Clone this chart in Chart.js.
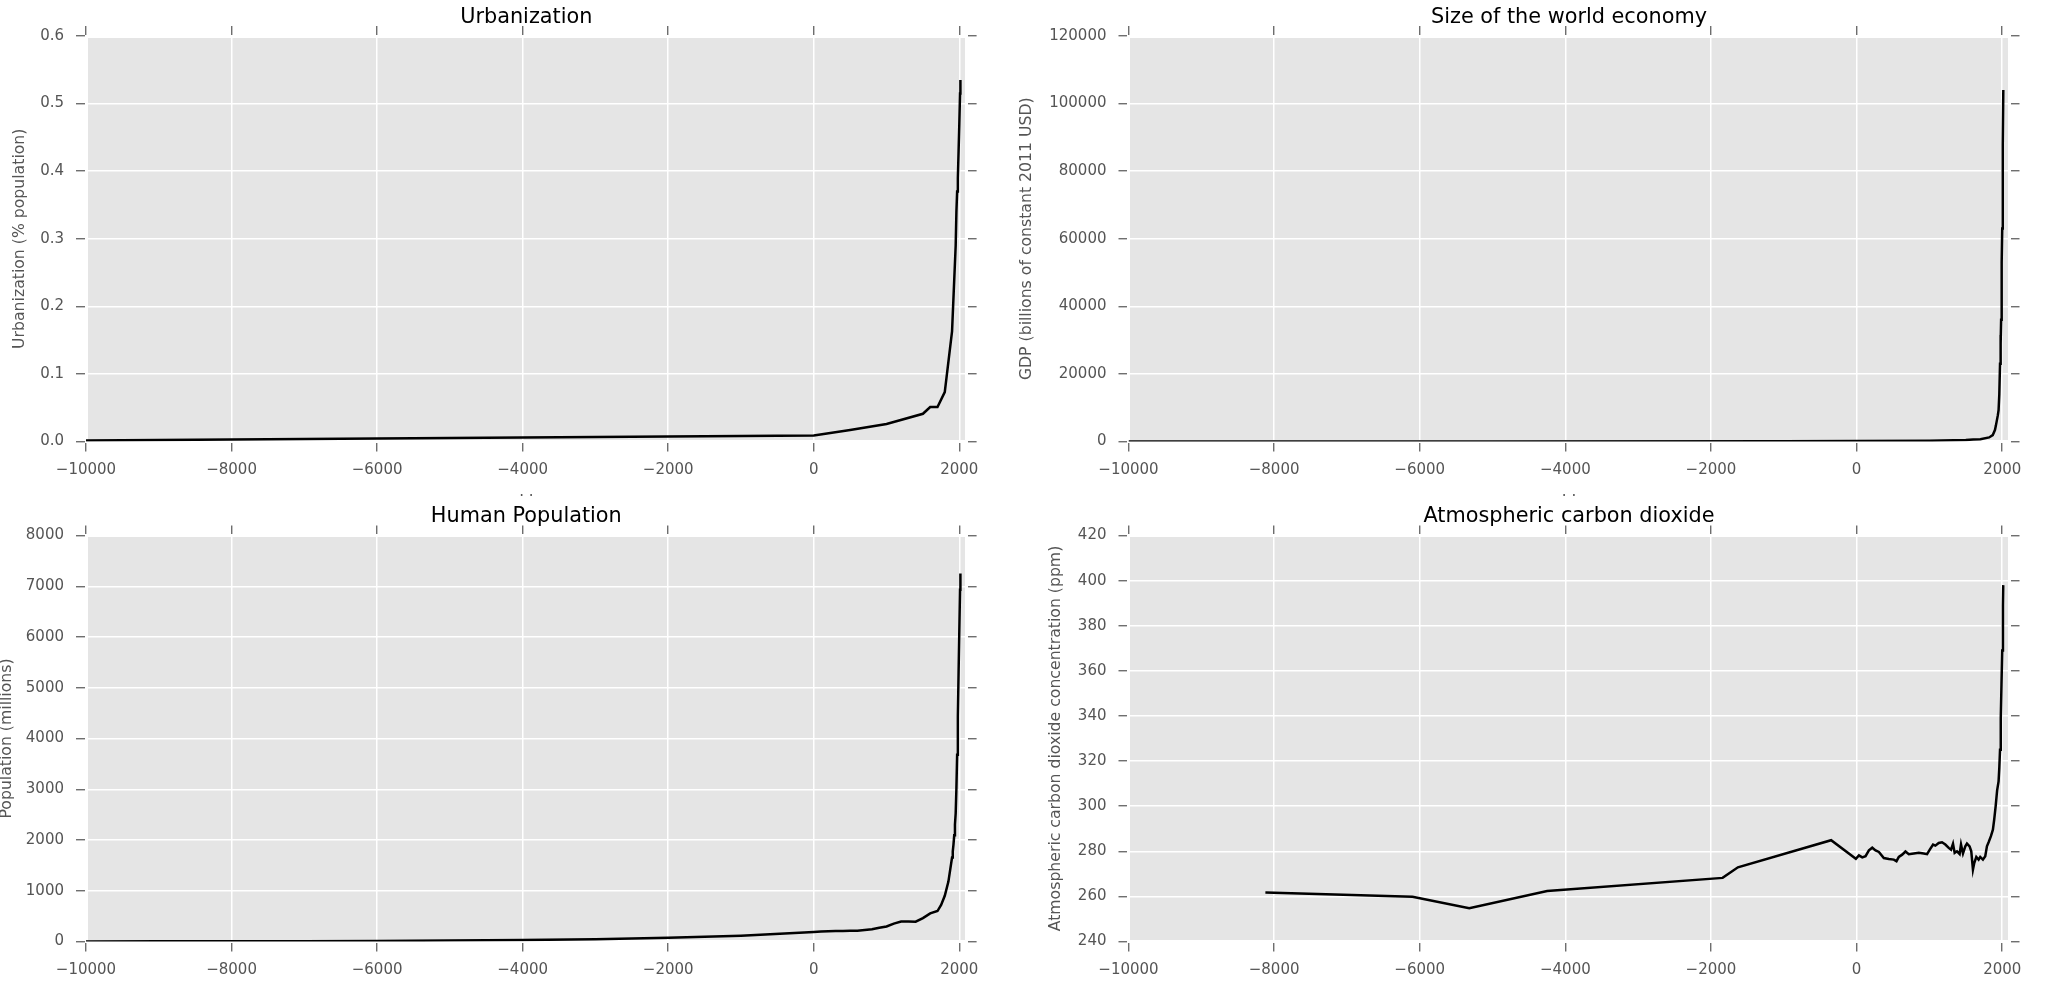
<!DOCTYPE html>
<html>
<head>
<meta charset="utf-8">
<script src="https://cdn.jsdelivr.net/npm/chart.js@4.4.1/dist/chart.umd.min.js"></script>
<style>
    html, body { margin: 0; padding: 0; background: #fff; }
    body { position: relative; width: 2048px; height: 993px; overflow: hidden; }
    canvas { position: absolute; }
</style>
</head>
<body>
<canvas id="urban-chart"></canvas>
<canvas id="gdp-chart"></canvas>
<canvas id="pop-chart"></canvas>
<canvas id="co2-chart"></canvas>
<script>
// --- data ---
const xTicks = [-10000, -8000, -6000, -4000, -2000, 0, 2000];

const urbanYears = [-10000, -8000, -6000, -4000, -2000, 0, 500, 1000, 1500, 1600, 1700, 1800,
    1900, 1950, 1960, 1970, 1980, 1990, 2000, 2010, 2015];
const urbanShare = [0.0015, 0.003, 0.0045, 0.006, 0.0075, 0.009, 0.017, 0.026, 0.041, 0.051, 0.051, 0.073,
    0.163, 0.29, 0.34, 0.37, 0.39, 0.43, 0.47, 0.515, 0.535];

const gdpYears = [-10000, -5000, -1000, 0, 1000, 1500, 1600, 1700, 1820, 1870, 1900, 1913, 1940,
    1950, 1960, 1970, 1977, 1978, 1980, 1985, 1990, 1995, 2000, 2005, 2010, 2015];
const gdpBillions = [4, 25, 90, 180, 210, 430, 600, 640, 1200, 1900, 3400, 4700, 7800,
    9250, 14000, 23000, 31500, 26600, 29000, 36000, 47000, 53000, 63000, 74000, 88000, 104000];

const popYears = [-10000, -9000, -8000, -7000, -6000, -5000, -4000, -3000, -2000, -1000, 0,
    100, 200, 300, 400, 500, 600, 700, 800, 900, 1000, 1100, 1200, 1300, 1400, 1500, 1600,
    1700, 1750, 1800, 1850, 1900, 1910, 1920, 1930, 1940, 1950, 1960, 1970, 1980, 1990,
    2000, 2010, 2015];
const popMillions = [2, 4, 5, 7, 10, 18, 28, 45, 72, 115, 188,
    195, 202, 205, 209, 210, 213, 226, 240, 269, 295, 353, 393, 392, 390, 461, 554,
    600, 720, 900, 1180, 1654, 1777, 1912, 2092, 2307, 2525, 3018, 3682, 4440, 5310,
    6127, 6930, 7250];

const co2Years = [-8120, -6100, -5320, -4250, -1840, -1630, -350, -10, 32, 78, 123, 169, 215,
    260, 306, 374, 443, 511, 548, 580, 626, 671, 717, 785, 854, 922, 968, 1005, 1050, 1082,
    1128, 1173, 1219, 1265, 1297, 1324, 1347, 1379, 1415, 1434, 1461, 1493, 1516, 1552, 1575,
    1598, 1616, 1644, 1676, 1698, 1735, 1767, 1790, 1813, 1845, 1872, 1890, 1910, 1930, 1950,
    1960, 1970, 1980, 1990, 2000, 2010, 2014];
const co2Ppm = [261.7, 259.8, 254.8, 262.4, 268.2, 272.9, 284.9, 276.7, 278.2, 277.3, 277.8, 280.4, 281.6,
    280.4, 279.7, 277.0, 276.6, 276.3, 275.6, 277.5, 278.5, 279.9, 278.7, 279.0, 279.3, 279.0, 278.7, 280.7, 283.0, 282.5,
    283.7, 284.0, 283.0, 281.5, 280.7, 283.3, 279.3, 280.0, 278.8, 283.0, 279.0, 282.2, 283.4, 282.2, 280.0,
    271.9, 274.8, 277.5, 276.3, 277.5, 276.3, 277.8, 282.2, 284.0, 286.7, 289.6, 294.1, 300, 307, 311,
    317, 325, 339, 354, 369, 389, 398];

// --- look ---
const FONT = "'DejaVu Sans', sans-serif";
const TICK_SIZE = 15;
const LABEL_SIZE = 15.7;
const TITLE_SIZE = 20.8;
const TEXT_GREY = '#555555';
const PANEL_GREY = '#E5E5E5';
const TICK_LEN = 10;
const RIGHT_W = 24;      // right axis box (tick marks only, room for the last x label)
const BOTTOM_H = 59.2;   // bottom axis box (ticks, labels, xlabel)

Chart.defaults.font.family = FONT;
Chart.defaults.color = TEXT_GREY;

// grey panel behind the plot area
const panelBackground = {
    id: 'panelBackground',
    beforeDraw(chart) {
        const { ctx, chartArea: a } = chart;
        ctx.save();
        ctx.fillStyle = PANEL_GREY;
        ctx.fillRect(a.left, a.top, a.right - a.left, a.bottom - a.top);
        ctx.restore();
    }
};

function signed(v) {
    return v < 0 ? '\u2212' + Math.abs(v) : String(v);
}

// Build one subplot on its own canvas, with the plot area placed at the given page pixels
function buildPanel(id, cfg) {
    const canvas = document.getElementById(id);
    const titleLine = TITLE_SIZE * 1.2;
    const left = cfg.ylabelX - LABEL_SIZE * 0.6;
    const top = cfg.areaT - 18.7 - titleLine / 2;
    const right = cfg.areaR + RIGHT_W;
    const bottom = cfg.areaB + BOTTOM_H;
    const cl = Math.floor(left), ct = Math.floor(top);
    const cr = Math.ceil(right), cb = Math.ceil(bottom);

    canvas.width = cr - cl;
    canvas.height = cb - ct;
    canvas.style.left = cl + 'px';
    canvas.style.top = ct + 'px';
    canvas.style.width = (cr - cl) + 'px';
    canvas.style.height = (cb - ct) + 'px';

    const tickFont = { family: FONT, size: TICK_SIZE };
    const labelFont = { family: FONT, size: LABEL_SIZE };
    const border = { display: true, color: '#ffffff', width: 3 };
    const marks = { color: '#ffffff', lineWidth: 1.5, tickColor: TEXT_GREY, tickWidth: 1.2, tickLength: TICK_LEN };
    const xRange = { type: 'linear', min: -10000, max: 2100 };
    const yRange = { type: 'linear', min: cfg.ymin, max: cfg.ymax };

    return new Chart(canvas, {
        type: 'line',
        data: {
            datasets: [{
                data: cfg.xs.map((x, i) => ({ x: x, y: cfg.ys[i] })),
                borderColor: '#000000',
                borderWidth: 2.5,
                pointRadius: 0,
                tension: 0,
                fill: false
            }]
        },
        options: {
            responsive: false,
            devicePixelRatio: 1,
            animation: false,
            layout: {
                autoPadding: false,
                padding: { left: left - cl, top: top - ct, right: cr - right, bottom: cb - bottom }
            },
            scales: {
                x: {
                    ...xRange,
                    position: 'bottom',
                    border: border,
                    grid: marks,
                    afterBuildTicks: s => { s.ticks = xTicks.map(v => ({ value: v })); },
                    afterFit: s => { s.height = BOTTOM_H; },
                    ticks: { font: tickFont, color: TEXT_GREY, padding: 10.1, maxRotation: 0, autoSkip: false, callback: signed },
                    title: { display: true, text: '. .', color: TEXT_GREY, font: tickFont, padding: 0 }
                },
                x2: {
                    ...xRange,
                    position: 'top',
                    border: border,
                    grid: { ...marks, drawOnChartArea: false },
                    afterBuildTicks: s => { s.ticks = xTicks.map(v => ({ value: v })); },
                    afterFit: s => { s.height = cfg.areaT - top - titleLine; },
                    ticks: { display: false }
                },
                y: {
                    ...yRange,
                    position: 'left',
                    border: border,
                    grid: marks,
                    afterFit: s => { s.width = cfg.areaL - left; },
                    ticks: { font: tickFont, color: TEXT_GREY, padding: 12, stepSize: cfg.ystep, callback: cfg.yfmt },
                    title: { display: true, text: cfg.ylabel, color: TEXT_GREY, font: labelFont, padding: 0 }
                },
                y2: {
                    ...yRange,
                    position: 'right',
                    border: border,
                    grid: { ...marks, drawOnChartArea: false },
                    afterFit: s => { s.width = RIGHT_W; },
                    ticks: { display: false, stepSize: cfg.ystep }
                }
            },
            plugins: {
                legend: { display: false },
                tooltip: { enabled: false },
                title: {
                    display: true,
                    text: cfg.title,
                    fullSize: false,
                    color: '#000000',
                    font: { family: FONT, size: TITLE_SIZE, weight: 'normal', lineHeight: 1.2 },
                    padding: { top: 0, bottom: 0 }
                }
            }
        },
        plugins: [panelBackground]
    });
}

buildPanel('urban-chart', {
    areaL: 86, areaR: 966.6, areaT: 36, areaB: 441.5, ylabelX: 20,
    title: 'Urbanization', ylabel: 'Urbanization (% population)',
    xs: urbanYears, ys: urbanShare, ymin: 0, ymax: 0.6, ystep: 0.1,
    yfmt: v => v.toFixed(1)
});

buildPanel('gdp-chart', {
    areaL: 1128.5, areaR: 2009.5, areaT: 36, areaB: 441.5, ylabelX: 1027,
    title: 'Size of the world economy', ylabel: 'GDP (billions of constant 2011 USD)',
    xs: gdpYears, ys: gdpBillions, ymin: 0, ymax: 120000, ystep: 20000,
    yfmt: v => String(v)
});

buildPanel('pop-chart', {
    areaL: 86, areaR: 966.6, areaT: 535.5, areaB: 941.5, ylabelX: 7,
    title: 'Human Population', ylabel: 'Population (millions)',
    xs: popYears, ys: popMillions, ymin: 0, ymax: 8000, ystep: 1000,
    yfmt: v => String(v)
});

buildPanel('co2-chart', {
    areaL: 1128.5, areaR: 2009.5, areaT: 535.5, areaB: 941.5, ylabelX: 1056,
    title: 'Atmospheric carbon dioxide', ylabel: 'Atmospheric carbon dioxide concentration (ppm)',
    xs: co2Years, ys: co2Ppm, ymin: 240, ymax: 420, ystep: 20,
    yfmt: v => String(v)
});
</script>
</body>
</html>
